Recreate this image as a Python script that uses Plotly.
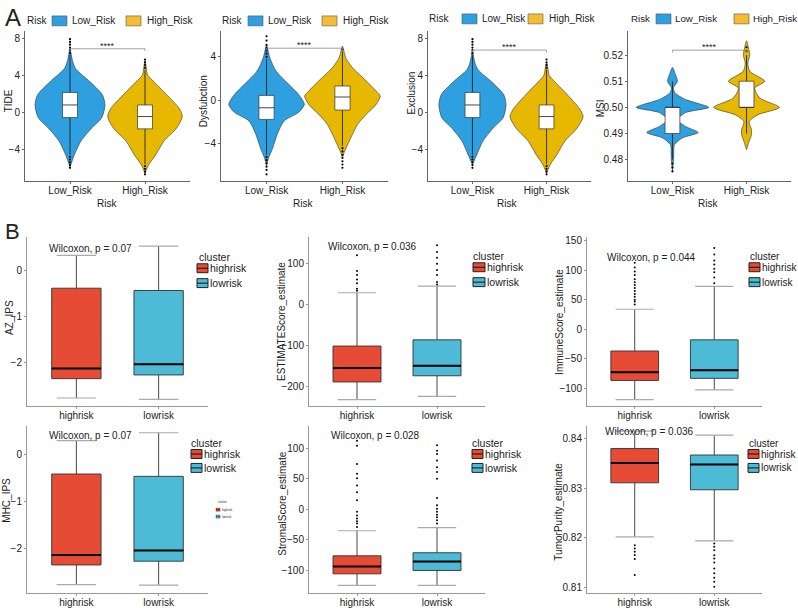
import plotly.graph_objects as go

W, H = 798, 608
FONT = "Liberation Sans, Arial, sans-serif"

# ======================= DATA =======================
risk_groups = ["Low_Risk", "High_Risk"]
clusters = ["highrisk", "lowrisk"]

# ---- Panel A: violin outlines (value levels, relative density half-widths) ----
tide_low_v = [7.0, 6.4, 5.5, 4.7, 3.3, 1.9, 0.8, -0.6, -1.7, -3.1, -4.6, -5.6, -5.9]
tide_low_d = [0, 3, 8, 17, 60, 97, 105, 95, 65, 33, 13, 3, 0]
tide_high_v = [5.6, 5.0, 4.0, 3.3, 1.9, 0.4, -0.46, -1.7, -3.1, -4.6, -5.6, -6.3, -6.6]
tide_high_d = [0, 3, 8, 27, 65, 103, 112, 95, 57, 32, 12, 3, 0]

dys_low_v = [5.1, 4.8, 3.9, 2.7, 1.5, 0.55, -0.37, -1.1, -1.9, -3.1, -4.4, -5.3, -6.0]
dys_low_d = [0, 3, 10, 28, 65, 95, 112, 95, 52, 32, 18, 6, 0]
dys_high_v = [5.0, 4.7, 3.9, 3.0, 1.8, 0.86, 0.4, -0.37, -1.3, -2.2, -3.1, -4.1, -4.8, -5.3]
dys_high_d = [0, 3, 10, 30, 70, 100, 112, 100, 70, 45, 30, 15, 5, 0]

exc_low_v = [6.9, 6.1, 5.3, 4.6, 3.3, 1.9, 0.8, -0.6, -1.7, -3.1, -4.6, -5.4, -5.7]
exc_low_d = [0, 3, 8, 17, 58, 95, 102, 93, 63, 32, 13, 3, 0]
exc_high_v = [5.4, 5.0, 4.0, 3.3, 1.9, 0.4, -0.46, -1.7, -3.1, -4.6, -5.6, -6.3, -6.6]
exc_high_d = [0, 3, 8, 25, 63, 100, 111, 93, 56, 31, 12, 3, 0]

msi_low_v = [0.5153, 0.513, 0.510, 0.5074, 0.5055, 0.503, 0.500, 0.498, 0.4953,
             0.4927, 0.4904, 0.4883, 0.4857, 0.482, 0.4794, 0.4755]
msi_low_d = [0, 8, 15, 3, 8, 40, 110, 40, 15, 40, 78, 30, 6, 4, 3, 0]
msi_high_v = [0.5255, 0.5227, 0.5201, 0.517, 0.5138, 0.510, 0.5074, 0.5036, 0.500,
              0.4972, 0.4946, 0.4915, 0.4896, 0.487, 0.4838]
msi_high_d = [0, 6, 10, 4, 10, 55, 25, 40, 100, 35, 8, 15, 15, 8, 0]

# ---- Panel A: box statistics [Low_Risk, High_Risk] ----
tide_q1 = [-0.57, -1.79]; tide_med = [0.79, -0.46]; tide_q3 = [2.14, 0.79]
tide_lo = [-4.6, -5.6]; tide_hi = [6.2, 4.6]
tide_out = [[6.4, 6.7, 7.0, 7.3, 7.6, 7.9, -4.8, -5.1, -5.4, -5.7, -6.0],
            [4.8, 5.1, 5.4, 5.7, -5.8, -6.1, -6.4, -6.7]]

dys_q1 = [-1.75, -0.89]; dys_med = [-0.68, 0.31]; dys_q3 = [0.46, 1.32]
dys_lo = [-5.0, -4.2]; dys_hi = [3.8, 4.5]
dys_out = [[4.0, 4.3, 4.6, 4.8, 5.1, 5.5, 5.9, -5.2, -5.5, -5.8, -6.1, -6.4, -6.8],
           [4.7, -4.4, -4.7, -5.0, -5.3, -5.6, -5.9, -6.2]]

exc_q1 = [-0.57, -1.79]; exc_med = [0.79, -0.46]; exc_q3 = [2.14, 0.79]
exc_lo = [-4.6, -5.6]; exc_hi = [6.2, 4.6]
exc_out = [[6.4, 6.7, 7.0, 7.3, 7.6, 7.9, -4.8, -5.1, -5.4, -5.7, -6.0],
           [4.8, 5.1, 5.4, 5.7, -5.8, -6.1, -6.4, -6.7]]

msi_q1 = [0.49, 0.50]; msi_med = [0.50, 0.50]; msi_q3 = [0.50, 0.51]
msi_lo = [0.48, 0.49]; msi_hi = [0.51, 0.52]
msi_out = [[0.4785, 0.477, 0.4755], [0.5215, 0.523]]

# significance bracket heights
sig_y = {"TIDE": 6.86, "Dys": 4.8, "Exc": 6.72, "MSI": 0.5219}

# ---- Panel B: box statistics [highrisk, lowrisk] ----
az_q1 = [-2.35, -2.27]; az_med = [-2.13, -2.04]; az_q3 = [-0.39, -0.44]
az_lo = [-2.77, -2.80]; az_hi = [0.32, 0.52]
az_out = [[], []]

est_q1 = [-188, -173]; est_med = [-154, -149]; est_q3 = [-101, -86]
est_lo = [-231, -223]; est_hi = [28, 44]
est_out = [[33, 38, 51, 60, 71, 81, 119], [48, 54, 71, 83, 98, 113, 127, 143]]

imm_q1 = [-87, -83.5]; imm_med = [-73, -69.5]; imm_q3 = [-37, -18]
imm_lo = [-119.5, -103]; imm_hi = [34, 73]
imm_out = [[42, 47, 50, 55, 60, 65, 70, 75, 80, 85, 92, 98, 105, 113],
           [78, 88, 97, 103, 110, 117, 127, 138]]

mhc_q1 = [-2.35, -2.27]; mhc_med = [-2.14, -2.04]; mhc_q3 = [-0.41, -0.46]
mhc_lo = [-2.77, -2.78]; mhc_hi = [0.30, 0.47]
mhc_out = [[], []]

str_q1 = [-105.5, -100]; str_med = [-93.5, -85.5]; str_q3 = [-76, -71]
str_lo = [-124.5, -124.5]; str_hi = [-35, -30]
str_out = [[-29, -23, -19.5, -15, -10, -4, 15, 28, 39, 51, 58, 74, 104, 112],
           [-23, -18, -13, -9, -4, 1, 6.5, 18.5, 50, 61, 69, 80, 90.5, 96, 105]]

tum_q1 = [0.8311, 0.8297]; tum_med = [0.8351, 0.8348]; tum_q3 = [0.8380, 0.8367]
tum_lo = [0.8202, 0.8194]; tum_hi = [0.8415, 0.8407]
tum_out = [[0.81854, 0.81788, 0.81721, 0.81655, 0.81575, 0.81254],
           [0.81888, 0.81822, 0.81753, 0.81653, 0.81587, 0.81507, 0.81387, 0.81287,
            0.8120, 0.8112, 0.8102]]

wilcox_labels = ["Wilcoxon, p = 0.07", "Wilcoxon, p = 0.036", "Wilcoxon, p = 0.044",
                 "Wilcoxon, p = 0.07", "Wilcoxon, p = 0.028", "Wilcoxon, p = 0.036"]

# ======================= STYLE / LAYOUT =======================
BLUE, YELLOW = "#2E9FDF", "#E7B800"
KEY_BLUE, KEY_YELLOW = "#2E9FDF", "#F4BC33"
RED, CYAN = "#E64B35", "#4DBBD5"
VSCALE = 1 / 225.0

# plot areas in pixels: x0, x1, ytop, ybottom
panels = [
    (25, 190, 29, 180), (221, 388, 29, 180), (428, 591, 29, 180), (628, 791, 29, 180),
    (27, 208, 237, 407), (309, 485, 237, 407), (587, 762, 237, 407),
    (27, 208, 427, 595), (309, 485, 427, 595), (587, 762, 427, 595),
]
yranges = [(-7.4, 8.8), (-7.4, 6.4), (-7.4, 8.8), (0.4719, 0.5293),
           (-2.95, 0.71), (-247, 162), (-131, 156),
           (-2.95, 0.61), (-137, 136), (0.8089, 0.8425)]
yticks = [[-4, 0, 4, 8], [-4, 0, 4], [-4, 0, 4, 8], [0.48, 0.49, 0.50, 0.51, 0.52],
          [-2, -1, 0], [-200, -100, 0, 100], [-100, -50, 0, 50, 100, 150],
          [-2, -1, 0], [-100, -50, 0, 50, 100], [0.81, 0.82, 0.83, 0.84]]
ytext = [None, None, None, ["0.48", "0.49", "0.50", "0.51", "0.52"],
         None, None, None, None, None, ["0.81", "0.82", "0.83", "0.84"]]

fig = go.Figure()
layout = dict(width=W, height=H, margin=dict(l=0, r=0, t=0, b=0),
              paper_bgcolor="white", plot_bgcolor="white", showlegend=False,
              font=dict(family=FONT, size=10, color="#222"), boxmode="overlay")

for i, (x0, x1, yt, yb) in enumerate(panels):
    n = i + 1
    sfx = "" if n == 1 else str(n)
    isA = i < 4
    lc = "#666" if isA else "#999"
    xa = dict(domain=[x0 / W, x1 / W], anchor="y" + sfx, range=[0.4, 2.6],
              tickmode="array", tickvals=[1, 2],
              ticktext=risk_groups if isA else clusters,
              showline=True, linecolor=lc, linewidth=1, ticks="outside", ticklen=2,
              tickcolor=lc, showgrid=False, zeroline=False, ticklabelstandoff=-2,
              tickfont=dict(size=10, color="#222"))
    ya = dict(domain=[1 - yb / H, 1 - yt / H], anchor="x" + sfx, range=list(yranges[i]),
              tickmode="array", tickvals=yticks[i],
              showline=True, linecolor=lc, linewidth=1, ticks="outside", ticklen=2,
              tickcolor=lc, showgrid=False, zeroline=False,
              tickfont=dict(size=10, color="#222"))
    if ytext[i]:
        ya["ticktext"] = ytext[i]
    layout["xaxis" + sfx] = xa
    layout["yaxis" + sfx] = ya


def axn(n):
    return ("x" if n == 1 else "x%d" % n), ("y" if n == 1 else "y%d" % n)


def line_tr(n, xs, ys, color, width):
    xa, ya = axn(n)
    fig.add_trace(go.Scatter(x=xs, y=ys, mode="lines", line=dict(color=color, width=width),
                             xaxis=xa, yaxis=ya, hoverinfo="skip"))


def add_violin(n, pos, vals, dens, color):
    xa, ya = axn(n)
    xs = [pos + d * VSCALE for d in dens] + [pos - d * VSCALE for d in reversed(dens)]
    ys = list(vals) + list(reversed(vals))
    fig.add_trace(go.Scatter(x=xs, y=ys, mode="lines", fill="toself", fillcolor=color,
                             line=dict(color="#333", width=0.6, shape="spline", smoothing=0.7),
                             xaxis=xa, yaxis=ya, hoverinfo="skip"))


def add_points(n, pos, vals, size):
    if not vals:
        return
    xa, ya = axn(n)
    fig.add_trace(go.Scatter(x=[pos] * len(vals), y=vals, mode="markers",
                             marker=dict(color="black", size=size), xaxis=xa, yaxis=ya,
                             hoverinfo="skip"))


def add_inner_box(n, pos, q1, med, q3, lo, hi, hw):
    xa, ya = axn(n)
    line_tr(n, [pos, pos], [lo, q1], "#222", 0.9)
    line_tr(n, [pos, pos], [q3, hi], "#222", 0.9)
    fig.add_trace(go.Scatter(x=[pos - hw, pos + hw, pos + hw, pos - hw, pos - hw],
                             y=[q1, q1, q3, q3, q1], mode="lines", fill="toself",
                             fillcolor="white", line=dict(color="#333", width=0.7),
                             xaxis=xa, yaxis=ya, hoverinfo="skip"))
    line_tr(n, [pos - hw, pos + hw], [med, med], "#333", 0.9)


# ---------- Panel A ----------
A_sets = [
    (1, [(tide_low_v, tide_low_d), (tide_high_v, tide_high_d)],
     tide_q1, tide_med, tide_q3, tide_lo, tide_hi, tide_out, sig_y["TIDE"]),
    (2, [(dys_low_v, dys_low_d), (dys_high_v, dys_high_d)],
     dys_q1, dys_med, dys_q3, dys_lo, dys_hi, dys_out, sig_y["Dys"]),
    (3, [(exc_low_v, exc_low_d), (exc_high_v, exc_high_d)],
     exc_q1, exc_med, exc_q3, exc_lo, exc_hi, exc_out, sig_y["Exc"]),
    (4, [(msi_low_v, msi_low_d), (msi_high_v, msi_high_d)],
     msi_q1, msi_med, msi_q3, msi_lo, msi_hi, msi_out, sig_y["MSI"]),
]
for n, vio, q1, med, q3, lo, hi, out, sy in A_sets:
    for k, color in enumerate([BLUE, YELLOW]):
        pos = k + 1
        add_violin(n, pos, vio[k][0], vio[k][1], color)
        add_points(n, pos, out[k], 2.2)
        add_inner_box(n, pos, q1[k], med[k], q3[k], lo[k], hi[k], 0.1)
    rng = yranges[n - 1][1] - yranges[n - 1][0]
    tip = rng * 0.015
    line_tr(n, [1, 1, 2, 2], [sy - tip, sy, sy, sy - tip], "#888", 0.8)

# ---------- Panel B ----------
B_sets = [
    (5, az_q1, az_med, az_q3, az_lo, az_hi, az_out),
    (6, est_q1, est_med, est_q3, est_lo, est_hi, est_out),
    (7, imm_q1, imm_med, imm_q3, imm_lo, imm_hi, imm_out),
    (8, mhc_q1, mhc_med, mhc_q3, mhc_lo, mhc_hi, mhc_out),
    (9, str_q1, str_med, str_q3, str_lo, str_hi, str_out),
    (10, tum_q1, tum_med, tum_q3, tum_lo, tum_hi, tum_out),
]
BW = 0.6
for n, q1, med, q3, lo, hi, out in B_sets:
    xa, ya = axn(n)
    for k, color in enumerate([RED, CYAN]):
        pos = k + 1
        fig.add_trace(go.Box(x=[pos], q1=[q1[k]], median=[med[k]], q3=[q3[k]],
                             lowerfence=[lo[k]], upperfence=[hi[k]], width=BW,
                             fillcolor=color, line=dict(color="#333", width=0.9),
                             whiskerwidth=0, boxpoints=False, xaxis=xa, yaxis=ya,
                             hoverinfo="skip"))
        for v in (lo[k], hi[k]):
            line_tr(n, [pos - BW * 0.4, pos + BW * 0.4], [v, v], "#aaa", 1.2)
        line_tr(n, [pos - BW / 2, pos + BW / 2], [med[k], med[k]], "black", 2)
        add_points(n, pos, out[k], 2)

# ======================= ANNOTATIONS / LEGENDS =======================
ann = []
shapes = []


def txt(x, y, s, size=10, anchor="left", angle=0, color="#222", yanchor="middle"):
    ann.append(dict(x=x / W, y=1 - y / H, xref="paper", yref="paper", text=s, showarrow=False,
                    xanchor=anchor, yanchor=yanchor, textangle=angle,
                    font=dict(family=FONT, size=size, color=color)))


def rect(x0, y0, x1, y1, fill, line="#555", lw=0.6):
    shapes.append(dict(type="rect", xref="paper", yref="paper", x0=x0 / W, x1=x1 / W,
                       y0=1 - y1 / H, y1=1 - y0 / H, fillcolor=fill,
                       line=dict(color=line, width=lw)))


def hline(x0, x1, y, color="#111", lw=1):
    shapes.append(dict(type="line", xref="paper", yref="paper", x0=x0 / W, x1=x1 / W,
                       y0=1 - y / H, y1=1 - y / H, line=dict(color=color, width=lw)))


# panel letters
txt(3, 16, "A", size=24)
txt(3, 231, "B", size=22)

# panel A legends: (Risk x, y, blue key x0, Low text x, yellow key x0, High text x, size)
A_leg = [(25, 19, 52, 70, 126, 145, 10), (220, 19, 248, 266, 322, 341, 10),
         (427, 17, 462, 480, 528, 547, 10), (629, 17, 656, 673, 734, 751, 9.7)]
for rx, ry, bx, lx, yx, hx, fs in A_leg:
    txt(rx, ry, "Risk", size=fs)
    rect(bx, ry - 5, bx + 15, ry + 5, KEY_BLUE)
    txt(lx, ry, risk_groups[0], size=fs)
    rect(yx, ry - 5, yx + 15, ry + 5, KEY_YELLOW)
    txt(hx, ry, risk_groups[1], size=fs)

# significance stars
for n, sy in [(1, sig_y["TIDE"]), (2, sig_y["Dys"]), (3, sig_y["Exc"]), (4, sig_y["MSI"])]:
    xa, ya = axn(n)
    ann.append(dict(x=1.5, y=sy, xref=xa, yref=ya, text="****", showarrow=False,
                    yanchor="bottom", yshift=-4, font=dict(family=FONT, size=9, color="#222")))

# axis titles panel A
txt(8, 100, "TIDE", angle=-90, anchor="center")
txt(203, 100, "Dysfubction", angle=-90, anchor="center")
txt(411, 92, "Exclusion", angle=-90, anchor="center")
txt(600, 107, "MSI", angle=-90, anchor="center")
for cx in (107, 303, 507, 708):
    txt(cx, 203, "Risk", anchor="center")

# axis titles panel B
txt(10, 318, "AZ_IPS", angle=-90, anchor="center")
txt(282, 322, "ESTIMATEScore_estimate", angle=-90, anchor="center")
txt(560, 322, "ImmuneScore_estimate", angle=-90, anchor="center")
txt(7, 502, "MHC_IPS", angle=-90, anchor="center")
txt(283, 505, "StromalScore_estimate", angle=-90, anchor="center")
txt(559, 513, "TumorPurity_estimate", angle=-90, anchor="center")

# Wilcoxon labels
wpos = [(47, 248), (326, 246), (605, 257), (47, 436), (329, 436), (603, 432)]
for (x, y), s in zip(wpos, wilcox_labels):
    txt(x, y, s)


def cluster_legend(tx, ty, kx, k1y, k2y, kw, kh, size, lw=1.0):
    txt(tx, ty, "cluster", size=size)
    for ky, col, lab in [(k1y, RED, clusters[0]), (k2y, CYAN, clusters[1])]:
        rect(kx, ky - kh / 2, kx + kw, ky + kh / 2, col, line="#222", lw=lw)
        hline(kx, kx + kw, ky, color="#111", lw=lw)
        txt(kx + kw + 0.3, ky, lab, size=size)


cluster_legend(197, 257, 197, 268, 283, 11, 9, 10.5)
cluster_legend(471, 256, 473, 267, 282, 12, 9, 10.5)
cluster_legend(748, 256, 749, 267, 282, 11, 9, 10)
cluster_legend(189, 444, 191, 455, 469, 11, 9, 10.5)
cluster_legend(470, 444, 472, 455, 469, 11, 9, 10.5)
cluster_legend(747, 444, 748, 455, 469, 11, 9, 10)
cluster_legend(216, 503, 216, 511, 518, 4, 3, 3, lw=0.4)

layout["annotations"] = ann
layout["shapes"] = shapes
fig.update_layout(**layout)
fig.write_html("out.html")
